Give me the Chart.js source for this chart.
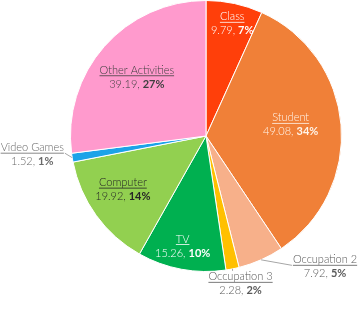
<!DOCTYPE html>
<html>
<head>
<meta charset="utf-8">
<script src="https://cdn.jsdelivr.net/npm/chart.js@4.4.1/dist/chart.umd.min.js"></script>
<style>
html,body{margin:0;padding:0;background:#fff;}
#wrap{width:358px;height:310px;position:relative;}
</style>
</head>
<body>
<div id="wrap"><canvas id="c" width="358" height="310"></canvas></div>
<script>
const categories = ['Class','Student','Occupation 2','Occupation 3','TV','Computer','Video Games','Other Activities'];
const values = [9.79, 49.08, 7.92, 2.28, 15.26, 19.92, 1.52, 39.19];
const valueLabels = ['9.79','49.08','7.92','2.28','15.26','19.92','1.52','39.19'];
const percentLabels = ['7%','34%','5%','2%','10%','14%','1%','27%'];
const colors = ['#FF3F0A','#F08038','#F7B08A','#FFC000','#00B050','#92D050','#1CA3E8','#FF9ACD'];

// label placement style (inside: radius fraction + angle tweak; outside: offset from slice edge)
const labelStyle = [
  {r:0.85, da:1, color:'#ffffff'},
  {r:0.63, da:-2.7, color:'#fff4ea'},
  {dx:64, dy:7, lead:'left', color:'#595959'},
  {dx:8, dy:15, lead:'top', color:'#595959'},
  {r:0.83, da:1.5, color:'#ffffff'},
  {r:0.73, da:3, color:'#262626'},
  {dx:-40, dy:-3, lead:'right', color:'#6a6a6a'},
  {r:0.67, da:-1, color:'#404040'}
];

const FONT = 'Lato';
const SIZE = 11;

const labelPlugin = {
  id: 'sliceLabels',
  afterDatasetsDraw(chart) {
    const ctx = chart.ctx;
    const meta = chart.getDatasetMeta(0);
    ctx.save();
    meta.data.forEach((arc, i) => {
      const p = arc.getProps(['x','y','startAngle','endAngle','outerRadius'], true);
      const st = labelStyle[i];
      let mid = (p.startAngle + p.endAngle) / 2;
      const ex = p.x + Math.cos(mid) * p.outerRadius;
      const ey = p.y + Math.sin(mid) * p.outerRadius;
      let cx, cy;
      if (st.r !== undefined) {
        const a = mid + st.da * Math.PI / 180;
        cx = p.x + Math.cos(a) * p.outerRadius * st.r;
        cy = p.y + Math.sin(a) * p.outerRadius * st.r;
      } else {
        cx = ex + st.dx;
        cy = ey + st.dy;
      }
      const y1 = cy - 7, y2 = cy + 7;
      ctx.textBaseline = 'middle';
      ctx.fillStyle = st.color;
      ctx.strokeStyle = st.color;
      // name
      ctx.font = '300 ' + SIZE + 'px ' + FONT;
      const name = categories[i];
      const nw = ctx.measureText(name).width;
      ctx.textAlign = 'left';
      ctx.fillText(name, cx - nw / 2, y1);
      ctx.lineWidth = 0.8;
      ctx.beginPath();
      ctx.moveTo(cx - nw / 2, y1 + 5.5);
      ctx.lineTo(cx + nw / 2, y1 + 5.5);
      ctx.stroke();
      // values
      const t1 = valueLabels[i] + ', ';
      ctx.font = '300 ' + SIZE + 'px ' + FONT;
      const w1 = ctx.measureText(t1).width;
      ctx.font = 'bold ' + SIZE + 'px ' + FONT;
      const w2 = ctx.measureText(percentLabels[i]).width;
      const x0 = cx - (w1 + w2) / 2;
      ctx.font = '300 ' + SIZE + 'px ' + FONT;
      ctx.fillText(t1, x0, y2);
      ctx.font = 'bold ' + SIZE + 'px ' + FONT;
      ctx.fillText(percentLabels[i], x0 + w1, y2);
      // leader line
      if (st.lead) {
        let lx, ly;
        if (st.lead === 'left') { lx = cx - nw / 2 - 1; ly = y1 + 5.5; }
        else if (st.lead === 'right') { lx = cx + nw / 2 + 1; ly = y1 + 5.5; }
        else { lx = ex; ly = y1 - 6; }
        ctx.strokeStyle = '#a6a6a6';
        ctx.lineWidth = 1;
        ctx.beginPath();
        ctx.moveTo(ex, ey);
        ctx.lineTo(lx, ly);
        ctx.stroke();
      }
    });
    ctx.restore();
  }
};

new Chart(document.getElementById('c'), {
  type: 'pie',
  data: {
    labels: categories,
    datasets: [{
      data: values,
      backgroundColor: colors,
      borderColor: '#ffffff',
      borderWidth: 1
    }]
  },
  options: {
    responsive: false,
    animation: false,
    layout: { padding: { left: 70, right: 16, top: 0, bottom: 38 } },
    plugins: { legend: { display: false }, tooltip: { enabled: false } }
  },
  plugins: [labelPlugin]
});
</script>
</body>
</html>
